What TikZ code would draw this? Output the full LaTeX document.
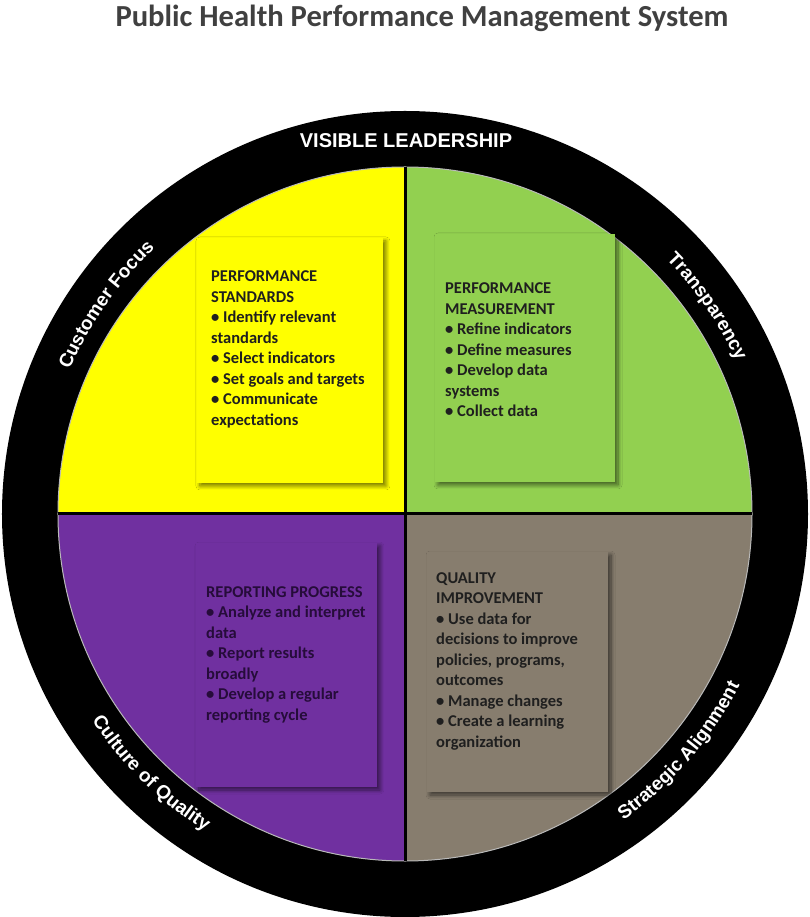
\documentclass[tikz,border=0pt]{standalone}
\usepackage{fontspec}
\setmainfont{Carlito}
\newfontfamily\ringfont{Liberation Sans}
\usetikzlibrary{decorations.text, shadows.blur}
\definecolor{psyellow}{RGB}{255,255,0}
\definecolor{pmgreen}{RGB}{146,208,80}
\definecolor{rppurple}{RGB}{112,48,160}
\definecolor{qigray}{RGB}{135,125,110}
\definecolor{titlegray}{RGB}{64,64,64}
\definecolor{purpletext}{RGB}{38,12,58}

\tikzset{
  stepbox/.style={blur shadow={shadow xshift=3pt, shadow yshift=-3pt, shadow blur radius=4pt, shadow blur steps=8, shadow opacity=55}},
  boxtext/.style={anchor=base west, align=left, inner sep=0pt, font=\bfseries\fontsize{16.5}{20.5}\selectfont, text=black!88},
  ringlabel/.style={decorate, decoration={text along path, text align=center, text color=white,
    text={|\ringfont\bfseries\fontsize{19}{19}\selectfont|#1}}}
}

\begin{document}
\begin{tikzpicture}[x=1pt,y=1pt]
  \def\Rout{403}
  \def\Rin{347}
  \useasboundingbox (-405,-403) rectangle (404,514);

  %Title
  \node[font=\bfseries\fontsize{30.6}{31}\selectfont, text=titlegray, anchor=base] (title) at (17,487) {Public Health Performance Management System};

  %Black ring
  \fill[black] (0,0) circle[radius=\Rout];

  %Quadrants
  \foreach \col/\a in {pmgreen/0, psyellow/90, rppurple/180, qigray/270}
  {
    \fill[\col] (0,0) -- (\a:\Rin) arc[start angle=\a, end angle=\a+90, radius=\Rin] -- cycle;
  }
  \draw[gray!55, line width=1pt] (0,0) circle[radius=\Rin];
  \draw[line width=3pt] (0,\Rin) -- (0,-\Rin);
  \draw[line width=3pt] (-\Rin,0) -- (\Rin,0);

  %Boxes with shadows
  \fill[psyellow, stepbox] (-208,31) rectangle (-22,276);
  \fill[pmgreen, stepbox] (30,32) rectangle (210,280);
  \fill[rppurple, stepbox] (-209,-273) rectangle (-28,-29);
  \fill[qigray, stepbox] (22,-278) rectangle (203,-38);

  %Box texts (placed by the baseline of their last line)
  \node[boxtext] (standards) at (-194,88.5) {PERFORMANCE\\STANDARDS\\• Identify relevant\\standards\\• Select indicators\\• Set goals and targets\\• Communicate\\expectations};
  \node[boxtext] (measurement) at (40,97) {PERFORMANCE\\MEASUREMENT\\• Refine indicators\\• Define measures\\• Develop data\\systems\\• Collect data};
  \node[boxtext, text=purpletext] (reporting) at (-199,-206) {REPORTING PROGRESS\\• Analyze and interpret\\data\\• Report results\\broadly\\• Develop a regular\\reporting cycle};
  \node[boxtext] (improvement) at (31,-233) {QUALITY\\IMPROVEMENT\\• Use data for\\decisions to improve\\policies, programs,\\outcomes\\• Manage changes\\• Create a learning\\organization};

  %Ring labels
  \node[font=\ringfont\bfseries\fontsize{20}{20}\selectfont, text=white, anchor=base] (leadership) at (1,366) {VISIBLE LEADERSHIP};
  \path[ringlabel={Customer Focus}] (175:365) arc[start angle=175, end angle=115, radius=365];
  \path[ringlabel={Transparency}] (64.5:365) arc[start angle=64.5, end angle=4.5, radius=365];
  \path[ringlabel={Culture of Quality}] (195.6:375) arc[start angle=195.6, end angle=255.6, radius=375];
  \path[ringlabel={Strategic Alignment}] (-70.8:376) arc[start angle=-70.8, end angle=-10.8, radius=376];
\end{tikzpicture}
\end{document}
